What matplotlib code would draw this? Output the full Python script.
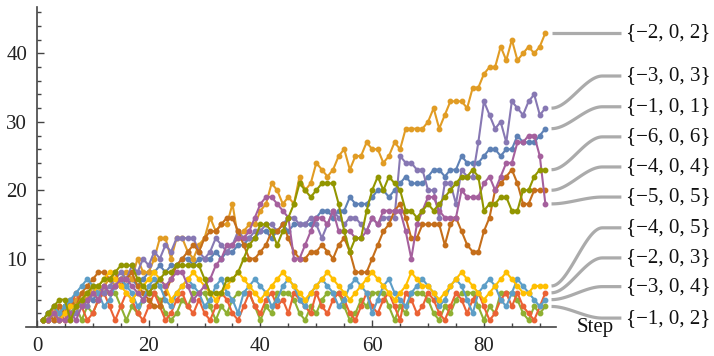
import numpy as np
import matplotlib.pyplot as plt

steps = list(range(1, 92))

# walk values, one list per parameter set
s_m1_1 = [1, 2, 1, 2, 3, 2, 3, 4, 5, 4,
          5, 6, 5, 6, 7, 6, 7, 6, 7, 8,
          8, 9, 8, 9, 9, 10, 10, 9, 10, 10,
          10, 11, 10, 11, 11, 12, 12, 13, 13, 14,
          14, 13, 14, 15, 14, 15, 15, 15, 15, 16,
          17, 17, 16, 17, 17, 19, 18, 18, 18, 19,
          20, 20, 19, 20, 21, 22, 21, 21, 21, 22,
          23, 23, 22, 23, 23, 25, 24, 24, 24, 25,
          26, 26, 25, 26, 26, 28, 27, 27, 27, 28, 29]
s_m2_2 = [1, 1, 2, 3, 2, 3, 4, 5, 4, 6,
          5, 6, 7, 6, 7, 8, 7, 10, 8, 8,
          10, 13, 13, 10, 13, 13, 11, 10, 12, 13,
          16, 14, 15, 15, 18, 13, 14, 15, 15, 17,
          18, 21, 20, 18, 19, 18, 22, 20, 21, 24,
          23, 22, 23, 25, 26, 23, 25, 25, 27, 26,
          26, 24, 25, 27, 26, 29, 29, 29, 29, 30,
          32, 29, 31, 33, 33, 33, 32, 35, 35, 37,
          38, 38, 41, 39, 42, 39, 40, 41, 40, 41, 43]
s_m1_2 = [1, 1, 2, 1, 3, 2, 3,
          1, 3, 2, 4, 5, 5, 5, 3,
          1, 3, 2, 4, 5, 5, 4, 2,
          1, 2, 4, 3, 5, 5, 5, 3,
          1, 3, 2, 4, 5, 5, 5, 3,
          1, 3, 2, 5, 5, 5, 4, 2,
          1, 3, 2, 4, 5, 5, 5, 3,
          1, 2, 4, 3, 5, 5, 5, 3,
          1, 3, 2, 5, 5, 5, 4, 2,
          1, 3, 2, 4, 5, 5, 5, 3,
          1, 3, 2, 5, 5, 5, 4, 2,
          1, 3, 2, 3]
s_m2_3 = [1, 1, 3, 2, 1, 3, 5, 3, 1, 2,
          4, 5, 3, 1, 3, 5, 4, 2, 1, 3,
          5, 3, 1, 2, 4, 5, 3, 2, 4, 2,
          1, 3, 5, 4, 2, 1, 3, 5, 3, 2,
          4, 5, 3, 4, 2, 5, 4, 3, 2, 5,
          3, 2, 4, 5, 4, 2, 1, 3, 5, 3,
          2, 4, 5, 3, 1, 5, 4, 2, 3, 5,
          4, 2, 1, 3, 5, 4, 2, 4, 5, 3,
          1, 2, 4, 5, 3, 5, 3, 2, 1, 3, 5]
s_m3_3 = [1, 1, 2, 1, 2, 1, 2, 4, 3, 5,
          6, 5, 6, 7, 8, 7, 9, 8, 10, 9,
          11, 10, 12, 11, 13, 13, 13, 13, 11, 10,
          11, 13, 12, 11, 12, 14, 13, 13, 14, 14,
          15, 15, 14, 15, 16, 16, 15, 15, 16, 15,
          13, 15, 17, 16, 15, 16, 16, 15, 14, 16,
          15, 16, 16, 16, 25, 24, 24, 23, 23, 20,
          20, 16, 21, 21, 18, 23, 22, 22, 27, 33,
          31, 29, 30, 27, 33, 32, 31, 33, 34, 31, 32]
s_m4_4 = [1, 2, 1, 3, 2, 4, 3, 5, 6, 7,
          8, 8, 7, 8, 6, 7, 8, 6, 5, 4,
          3, 3, 5, 7, 9, 10, 11, 12, 11, 13,
          14, 14, 15, 16, 16, 14, 12, 10, 10, 11,
          12, 14, 14, 15, 13, 11, 10, 10, 11, 11,
          12, 11, 10, 12, 13, 11, 8, 8, 8, 10,
          12, 14, 15, 17, 18, 16, 13, 13, 15, 15,
          15, 15, 12, 15, 16, 14, 12, 11, 11, 14,
          16, 20, 21, 22, 23, 21, 18, 18, 20, 20, 20]
s_m3_4 = [1, 2, 3, 2, 3, 4, 5, 6,
          7, 6, 5, 3, 4, 6,
          7, 6, 5, 3, 4, 6,
          7, 6, 4, 3, 5, 6,
          7, 6, 5, 3, 4, 6,
          7, 5, 4, 2, 5, 6,
          7, 6, 5, 3, 4, 6,
          7, 6, 4, 3, 5, 6,
          7, 6, 5, 3, 4, 6,
          7, 6, 5, 2, 4, 6,
          7, 5, 4, 3, 5, 6,
          7, 6, 5, 3, 4, 6,
          7, 6, 4, 2, 5, 6,
          7, 6, 4, 3, 5,
          7, 6, 5, 4, 3, 4]
s_m4_5 = [1, 1, 2, 1, 2, 3, 3, 4, 5, 5,
          6, 7, 8, 7, 6, 5, 4, 5, 6, 7,
          8, 7, 6, 4, 5, 6, 7, 8, 7, 6,
          5, 4, 5, 6, 7, 8, 7, 6, 5, 4,
          5, 6, 7, 8, 7, 6, 5, 4, 5, 6,
          7, 8, 7, 6, 5, 4, 5, 6, 7, 8,
          7, 6, 5, 4, 5, 6, 8, 7, 6, 6,
          5, 4, 5, 6, 7, 8, 7, 6, 5, 4,
          5, 6, 7, 8, 7, 6, 5, 5, 6, 6, 6]
s_m5_5 = [1, 1, 2, 1, 1, 2, 1, 3, 4, 5,
          4, 6, 5, 6, 7, 7, 6, 5, 4, 5,
          6, 7, 6, 7, 8, 8, 6, 4, 5, 6,
          7, 9, 10, 12, 12, 13, 13, 14, 16, 18,
          19, 19, 18, 17, 16, 10, 10, 12, 14, 16,
          16, 15, 17, 14, 14, 14, 13, 13, 14, 16,
          15, 17, 17, 17, 17, 14, 10, 15, 17, 19,
          19, 17, 16, 16, 16, 20, 19, 19, 19, 21,
          22, 20, 22, 24, 24, 27, 27, 28, 28, 25, 18]
s_m6_6 = [1, 2, 3, 4, 4, 1, 3, 4, 5, 6,
          6, 7, 7, 8, 9, 9, 9, 7, 6, 5,
          6, 7, 8, 8, 9, 9, 9, 9, 9, 7,
          5, 5, 5, 7, 7, 8, 10, 12, 13, 15,
          15, 14, 12, 14, 16, 18, 21, 20, 19, 20,
          21, 21, 21, 18, 14, 11, 13, 13, 17, 20,
          22, 20, 22, 21, 20, 17, 17, 16, 17, 18,
          17, 18, 19, 20, 21, 22, 22, 23, 22, 17,
          18, 18, 19, 19, 17, 17, 20, 20, 22, 23, 23]

names = ["{\u22121, 0, 1}", "{\u22122, 0, 2}", "{\u22121, 0, 2}", "{\u22122, 0, 3}",
         "{\u22123, 0, 3}", "{\u22124, 0, 4}", "{\u22123, 0, 4}", "{\u22124, 0, 5}",
         "{\u22125, 0, 5}", "{\u22126, 0, 6}"]
series = [s_m1_1, s_m2_2, s_m1_2, s_m2_3, s_m3_3, s_m4_4, s_m3_4, s_m4_5, s_m5_5, s_m6_6]
colors = ["#5E81B5", "#E19C24", "#8FB032", "#EB6235", "#8778B3",
          "#C56E1A", "#5D9EC7", "#FFBF00", "#A5609D", "#929600"]
# where the callout labels sit (data units), same order as names
label_y = [32.2, 43.0, 1.3, 10.1, 36.7, 23.4, 5.9, 14.5, 19.0, 27.8]

plt.rcParams['font.family'] = ['Liberation Serif', 'DejaVu Serif']

fig = plt.figure(figsize=(7.14, 3.56), dpi=100)
ax = fig.add_axes([0.0361, 0.0815, 0.7426, 0.899])

for vals, col in zip(series, colors):
    ax.plot(steps, vals, color=col, lw=1.5, marker='o', ms=3.2, mec=col, mfc=col)

ax.set_xlim(-2, 92.9)
ax.set_ylim(0, 46.8)

for sp in ['top', 'right']:
    ax.spines[sp].set_visible(False)
ax.spines['left'].set_position(('data', 0))
for sp in ['left', 'bottom']:
    ax.spines[sp].set_color('#444444')
    ax.spines[sp].set_linewidth(1.2)

ax.set_xticks([0, 20, 40, 60, 80])
ax.set_xticks(np.arange(5, 95, 5), minor=True)
ax.set_yticks([10, 20, 30, 40])
ax.set_yticks(np.arange(2, 47, 2), minor=True)
ax.tick_params(which='both', direction='in', color='#444444', width=1.0,
               labelsize=15, labelcolor='#222222')
ax.tick_params(which='major', length=5, pad=7)
ax.tick_params(which='minor', length=3)

# callout connectors and labels
x0, x1, x2 = 92.1, 101.2, 104.6
xs = np.linspace(x0, x1, 40)
t = (xs - x0) / (x1 - x0)
sm = t * t * (3 - 2 * t)
for vals, name, ly in zip(series, names, label_y):
    y0 = vals[-1]
    yy = y0 + (ly - y0) * sm
    ax.plot(np.append(xs, x2), np.append(yy, ly), color='#ababab', lw=2.3,
            clip_on=False, solid_capstyle='butt', zorder=1)
    ax.text(105.5, ly, name, fontsize=15, ha='left', va='center', color='#111111')

ax.text(96.6, -0.8, "Step", fontsize=15, ha='left', va='baseline', color='#111111')

fig.savefig("out.png", dpi=100)
